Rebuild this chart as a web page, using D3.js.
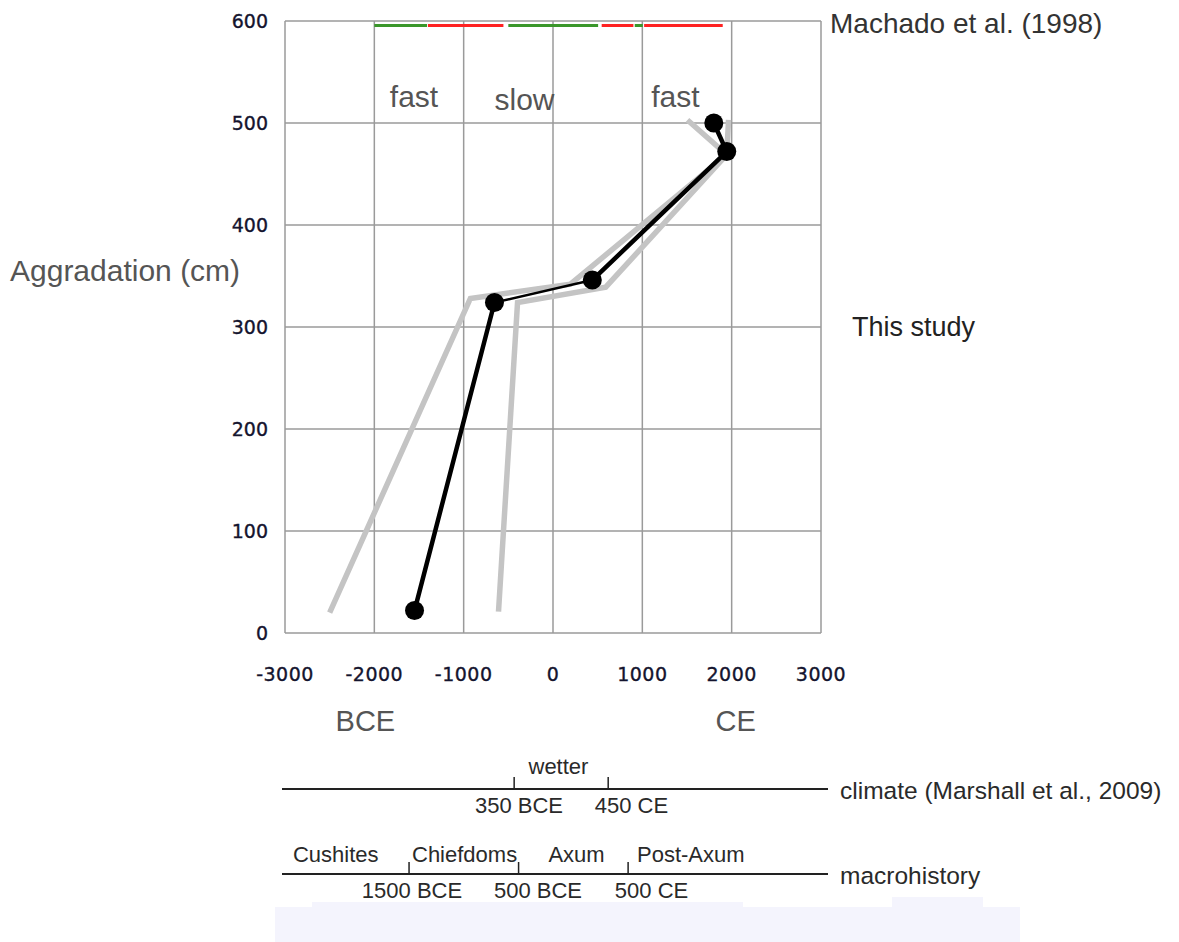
<!DOCTYPE html>
<html><head><meta charset="utf-8">
<script src="https://cdn.jsdelivr.net/npm/d3@7"></script>
<style>
html,body{margin:0;padding:0;background:#fff;}
svg{display:block;}
</style></head>
<body>
<script>
// ---------- data ----------
const xTicks = [-3000,-2000,-1000,0,1000,2000,3000];
const yTicks = [0,100,200,300,400,500,600];
// this study (black) : year, aggradation (cm)
const studyYears = [-1550,-655,440,1945,1800];
const studyAgg   = [22,324,346,472,500];
// uncertainty envelopes (grey)
const envAYears = [-2500,-925,195,1945,1505];
const envAAgg   = [20,328,342,469,503];
const envBYears = [-610,-397,590,1945,1965];
const envBAgg   = [21,324,339,469,503];
// Machado et al. (1998) bar: start, end, rate
const barStart = [-2000,-1400,-500,545,915,1020];
const barEnd   = [-1410,-555,505,900,1005,1900];
const barRate  = ["slow","fast","slow","fast","slow","fast"];
const rateLabels = ["fast","slow","fast"];
const rateLabelYears = [-1556,-319,1371];
const rateLabelAgg = [515.5,512.5,515.5];
// climate timeline
const climTicks = [-350,450];
const climTickLabels = ["350 BCE","450 CE"];
const climTickLabelYears = [-309,648];
const climLabels = ["wetter"];
const climLabelYears = [27];
// macrohistory timeline
const macroTicks = [-1500,-500,500];
const macroTickLabels = ["1500 BCE","500 BCE","500 CE"];
const macroTickLabelYears = [-1473,-323,714];
const macroPeriods = ["Cushites","Chiefdoms","Axum","Post-Axum"];
const macroPeriodYears = [-2560,-1473,29,581];
const macroPeriodAnchor = ["start","start","middle","start"];

// ---------- drawing ----------
const W = 1179, H = 942;
const svg = d3.select("body").append("svg").attr("width",W).attr("height",H);
svg.append("rect").attr("width",W).attr("height",H).attr("fill","#fff");

const x = d3.scaleLinear().domain([-3000,3000]).range([285,821]);
const y = d3.scaleLinear().domain([0,600]).range([633,21]);

const SANS = "'Liberation Sans', Arial, sans-serif";
const TICKF = "'DejaVu Sans', Verdana, sans-serif";

// light page artifacts at bottom
const pale = "#f4f4fd";
svg.append("rect").attr("x",275).attr("y",907).attr("width",745).attr("height",35).attr("fill",pale);
svg.append("rect").attr("x",312).attr("y",902).attr("width",431).attr("height",6).attr("fill",pale);
svg.append("rect").attr("x",892).attr("y",897).attr("width",91).attr("height",11).attr("fill",pale);

// grid
const grid = svg.append("g").attr("stroke","#9a9a9a").attr("stroke-width",1.5);
grid.selectAll("line.v").data(xTicks).join("line").attr("class","v")
  .attr("x1",d=>x(d)).attr("x2",d=>x(d)).attr("y1",y(600)).attr("y2",y(0));
grid.selectAll("line.h").data(yTicks).join("line").attr("class","h")
  .attr("y1",d=>y(d)).attr("y2",d=>y(d)).attr("x1",x(-3000)).attr("x2",x(3000));

// axis tick labels
svg.append("g").selectAll("text").data(xTicks).join("text")
  .attr("x",d=>x(d)).attr("y",681).attr("text-anchor","middle")
  .attr("font-family",TICKF).attr("font-size",19).attr("fill","#14142e")
  .attr("stroke","#14142e").attr("stroke-width",0.35)
  .attr("letter-spacing",0.5)
  .text(d=>d);
svg.append("g").selectAll("text").data(yTicks).join("text")
  .attr("x",268).attr("y",d=>y(d)+7).attr("text-anchor","end")
  .attr("font-family",TICKF).attr("font-size",19).attr("fill","#14142e")
  .attr("stroke","#14142e").attr("stroke-width",0.35)
  .text(d=>d);

// axis titles
svg.append("text").attr("x",10).attr("y",281).attr("font-family",SANS).attr("font-size",30)
  .attr("fill","#555").text("Aggradation (cm)");
svg.append("text").attr("x",x(-2100)).attr("y",731).attr("text-anchor","middle")
  .attr("font-family",SANS).attr("font-size",29).attr("fill","#555").text("BCE");
svg.append("text").attr("x",x(2045)).attr("y",731).attr("text-anchor","middle")
  .attr("font-family",SANS).attr("font-size",29).attr("fill","#555").text("CE");

// Machado bar
const barData = barStart.map((s,i)=>({s,e:barEnd[i],r:barRate[i]}));
svg.append("g").selectAll("line").data(barData).join("line")
  .attr("x1",d=>x(d.s)).attr("x2",d=>x(d.e)).attr("y1",25.5).attr("y2",25.5)
  .attr("stroke",d=>d.r==="fast"?"#ff2222":"#3a962a").attr("stroke-width",3);
svg.append("g").selectAll("text").data(rateLabels).join("text")
  .attr("x",(d,i)=>x(rateLabelYears[i])).attr("y",(d,i)=>y(rateLabelAgg[i]))
  .attr("text-anchor","middle").attr("font-family",SANS).attr("font-size",30)
  .attr("fill","#555").text(d=>d);
svg.append("text").attr("x",830).attr("y",33).attr("font-family",SANS).attr("font-size",28)
  .attr("fill","#333").text("Machado et al. (1998)");
svg.append("text").attr("x",852).attr("y",336).attr("font-family",SANS).attr("font-size",27)
  .attr("fill","#222").text("This study");

// lines
const line = d3.line().x(d=>x(d[0])).y(d=>y(d[1]));
const envA = envAYears.map((v,i)=>[v,envAAgg[i]]);
const envB = envBYears.map((v,i)=>[v,envBAgg[i]]);
const study = studyYears.map((v,i)=>[v,studyAgg[i]]);
[envA,envB].forEach(p=>{
  svg.append("path").attr("d",line(p)).attr("fill","none")
    .attr("stroke","#c4c4c4").attr("stroke-width",5.5).attr("stroke-linejoin","miter");
});
const segWidths = [4.5,2.5,4.5,4.5];
svg.append("g").selectAll("path").data(d3.pairs(study)).join("path")
  .attr("d",d=>line(d)).attr("fill","none").attr("stroke","#000")
  .attr("stroke-width",(d,i)=>segWidths[i]).attr("stroke-linecap","round");
svg.append("g").selectAll("circle").data(study).join("circle")
  .attr("cx",d=>x(d[0])).attr("cy",d=>y(d[1])).attr("r",9.5).attr("fill","#000");

// timelines
const tlStroke = "#222";
const LX0 = 282, LX1 = 828;
const climX = d3.scaleLinear().domain([-2325,2320]).range([LX0,LX1]);
const macroX = d3.scaleLinear().domain([-2660,2325]).range([LX0,LX1]);
const climY = 789, macroY = 874;

function timeline(sc, ly, ticks, tickLabels, tickLabelYears, title){
  const g = svg.append("g");
  g.append("line").attr("x1",LX0).attr("x2",LX1).attr("y1",ly).attr("y2",ly)
    .attr("stroke",tlStroke).attr("stroke-width",2);
  g.selectAll("line.t").data(ticks).join("line").attr("class","t")
    .attr("x1",d=>sc(d)).attr("x2",d=>sc(d)).attr("y1",ly).attr("y2",ly-12)
    .attr("stroke",tlStroke).attr("stroke-width",1.5);
  g.selectAll("text.tl").data(tickLabels).join("text").attr("class","tl")
    .attr("x",(d,i)=>sc(tickLabelYears[i])).attr("y",ly+24).attr("text-anchor","middle")
    .attr("font-family",SANS).attr("font-size",22).attr("fill","#2a2a2a").text(d=>d);
  g.append("text").attr("x",840).attr("y",ly+10).attr("font-family",SANS)
    .attr("font-size",24.5).attr("fill","#2a2a2a").text(title);
  return g;
}
const cg = timeline(climX, climY, climTicks, climTickLabels, climTickLabelYears, "climate (Marshall et al., 2009)");
cg.selectAll("text.lab").data(climLabels).join("text").attr("class","lab")
  .attr("x",(d,i)=>climX(climLabelYears[i])).attr("y",climY-15).attr("text-anchor","middle")
  .attr("font-family",SANS).attr("font-size",22).attr("fill","#2a2a2a").text(d=>d);
const mg = timeline(macroX, macroY, macroTicks, macroTickLabels, macroTickLabelYears, "macrohistory");
mg.selectAll("text.lab").data(macroPeriods).join("text").attr("class","lab")
  .attr("x",(d,i)=>macroX(macroPeriodYears[i])).attr("y",macroY-12)
  .attr("text-anchor",(d,i)=>macroPeriodAnchor[i])
  .attr("font-family",SANS).attr("font-size",22).attr("fill","#2a2a2a").text(d=>d);
</script>
</body></html>
